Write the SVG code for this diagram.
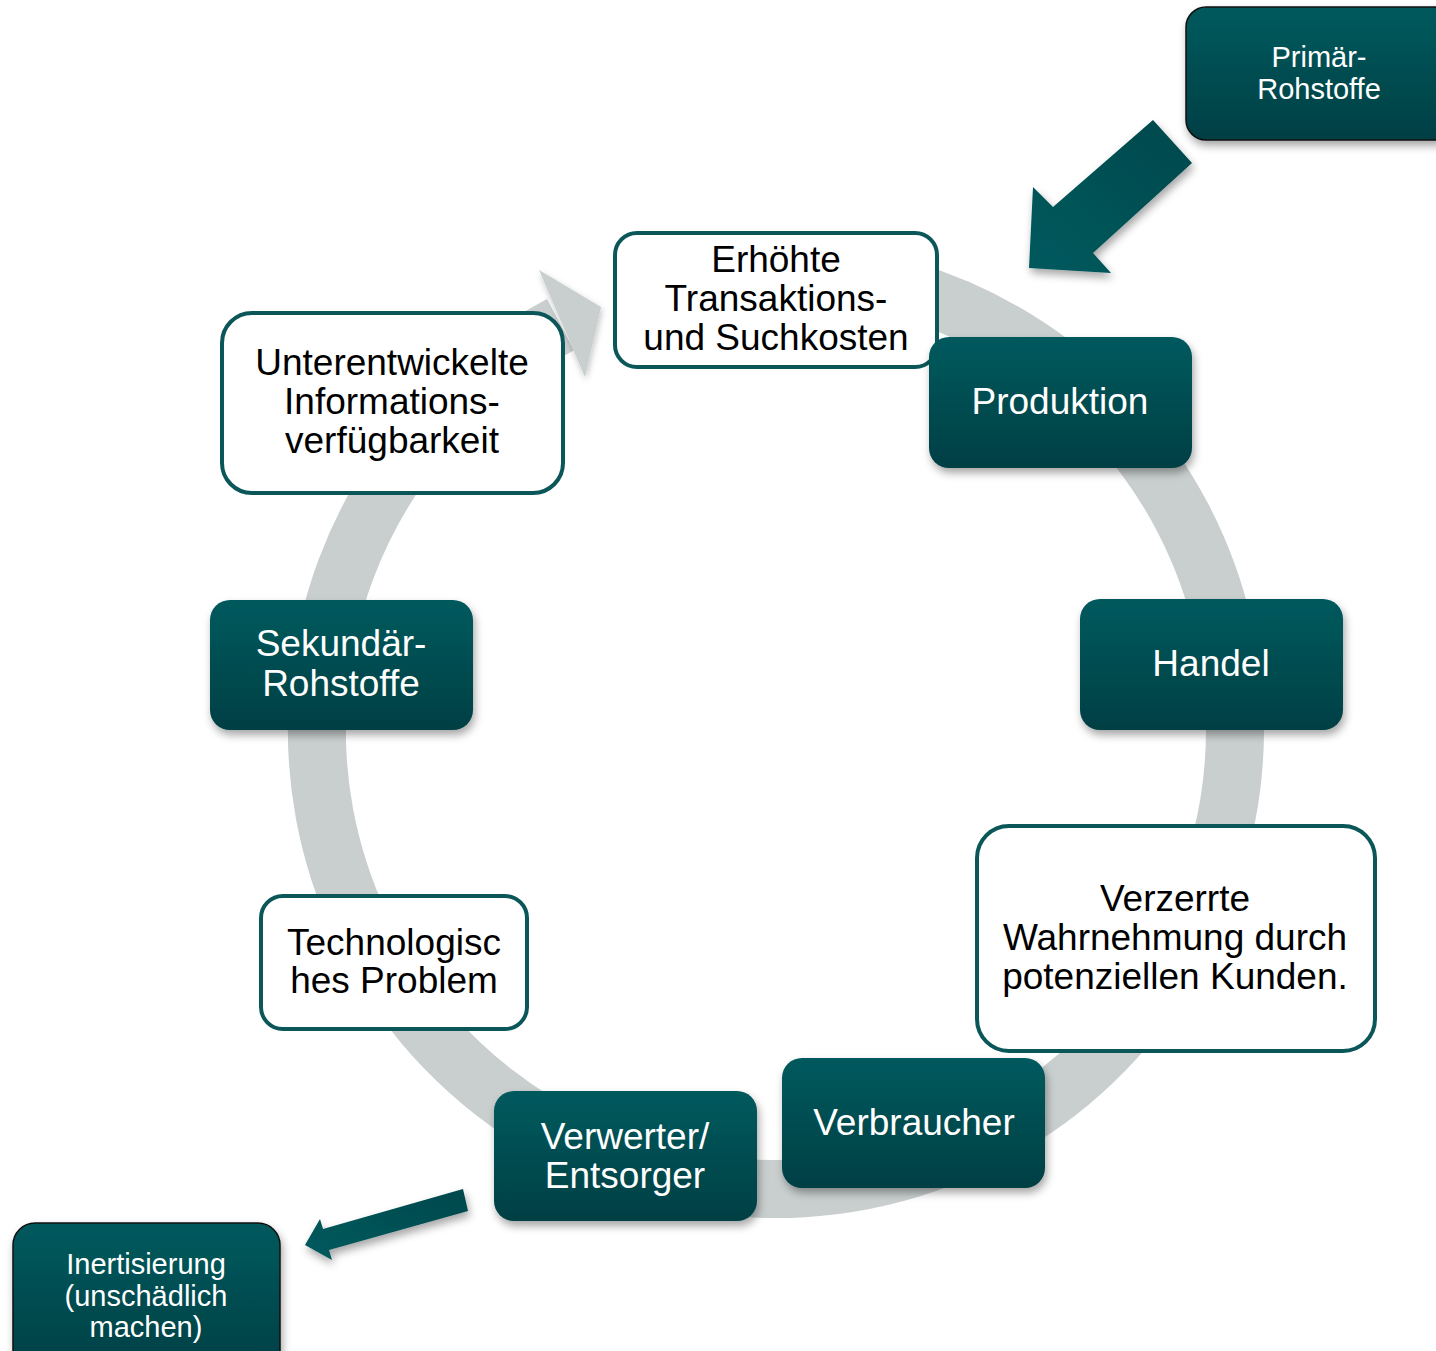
<svg xmlns="http://www.w3.org/2000/svg" width="1436" height="1351" viewBox="0 0 1436 1351">
<defs>
<linearGradient id="teal" x1="0" y1="0" x2="0" y2="1">
<stop offset="0" stop-color="#035a5d"/>
<stop offset="1" stop-color="#023f44"/>
</linearGradient>
<linearGradient id="tealArrow" x1="1" y1="0" x2="0" y2="1">
<stop offset="0" stop-color="#02484c"/>
<stop offset="1" stop-color="#035a5d"/>
</linearGradient>
<filter id="sh" x="-20%" y="-20%" width="140%" height="150%">
<feDropShadow dx="2" dy="5" stdDeviation="4" flood-color="#000" flood-opacity="0.35"/>
</filter>
<filter id="shl" x="-20%" y="-20%" width="140%" height="150%">
<feDropShadow dx="1" dy="3" stdDeviation="3" flood-color="#000" flood-opacity="0.25"/>
</filter>
</defs>
<style>
.tn{fill:url(#teal);filter:url(#sh);}
.wn{fill:#fff;stroke:#0b5659;stroke-width:4;}
.tt{font-family:"Liberation Sans",Arial,sans-serif;fill:#fff;text-anchor:middle;}
.bt{font-family:"Liberation Sans",Arial,sans-serif;fill:#000;text-anchor:middle;}
.big{font-size:37px;}
.small{font-size:29px;}
</style>
<rect width="1436" height="1351" fill="#fff"/>
<g id="connectors">
<path id="cycle" d="M696.3,278 A459,459 0 1 1 560.5,324.7" fill="none" stroke="#c9cfcf" stroke-width="58"/>
<polygon points="539,270 601,307 585,377" fill="#c9cfcf" filter="url(#shl)"/>
<polygon id="arrow-primaer" points="1153,120 1192,163 1093,253 1111,273 1029,268 1033,187 1053,207" fill="url(#tealArrow)" filter="url(#sh)"/>
<polygon id="arrow-inert" points="463,1189 468,1211 329,1250 332,1260 305,1245 320,1219 323,1229" fill="url(#tealArrow)" filter="url(#sh)"/>
</g>
<g id="node-primaer">
<rect x="1186" y="7" width="270" height="133" rx="20" class="tn" stroke="#111" stroke-width="1.5"/>
<text class="tt small" x="1319" y="67">Primär-</text>
<text class="tt small" x="1319" y="99">Rohstoffe</text>
</g>
<g id="node-erhoehte">
<rect x="615" y="233" width="322" height="134" rx="22" class="wn"/>
<text class="bt big" x="776" y="272">Erhöhte</text>
<text class="bt big" x="776" y="311">Transaktions-</text>
<text class="bt big" x="776" y="350">und Suchkosten</text>
</g>
<g id="node-produktion">
<rect x="929" y="337" width="263" height="131" rx="20" class="tn"/>
<text class="tt big" x="1060" y="414">Produktion</text>
</g>
<g id="node-unterentwickelte">
<rect x="222" y="313" width="341" height="180" rx="30" class="wn"/>
<text class="bt big" x="392" y="375">Unterentwickelte</text>
<text class="bt big" x="392" y="414">Informations-</text>
<text class="bt big" x="392" y="453">verfügbarkeit</text>
</g>
<g id="node-handel">
<rect x="1080" y="599" width="263" height="131" rx="20" class="tn"/>
<text class="tt big" x="1211" y="676">Handel</text>
</g>
<g id="node-sekundaer">
<rect x="210" y="600" width="263" height="130" rx="20" class="tn"/>
<text class="tt big" x="341" y="656">Sekundär-</text>
<text class="tt big" x="341" y="696">Rohstoffe</text>
</g>
<g id="node-verzerrte">
<rect x="977" y="826" width="398" height="225" rx="32" class="wn"/>
<text class="bt big" x="1175" y="911">Verzerrte</text>
<text class="bt big" x="1175" y="950">Wahrnehmung durch</text>
<text class="bt big" x="1175" y="989">potenziellen Kunden.</text>
</g>
<g id="node-technologisch">
<rect x="261" y="896" width="266" height="133" rx="22" class="wn"/>
<text class="bt big" x="394" y="955">Technologisc</text>
<text class="bt big" x="394" y="993">hes Problem</text>
</g>
<g id="node-verbraucher">
<rect x="782" y="1058" width="263" height="130" rx="20" class="tn"/>
<text class="tt big" x="914" y="1135">Verbraucher</text>
</g>
<g id="node-verwerter">
<rect x="494" y="1091" width="263" height="130" rx="20" class="tn"/>
<text class="tt big" x="625" y="1149">Verwerter/</text>
<text class="tt big" x="625" y="1188">Entsorger</text>
</g>
<g id="node-inertisierung">
<rect x="13" y="1223" width="267" height="150" rx="22" class="tn" stroke="#111" stroke-width="1.5"/>
<text class="tt small" x="146" y="1274">Inertisierung</text>
<text class="tt small" x="146" y="1306">(unschädlich</text>
<text class="tt small" x="146" y="1337">machen)</text>
</g>
</svg>
